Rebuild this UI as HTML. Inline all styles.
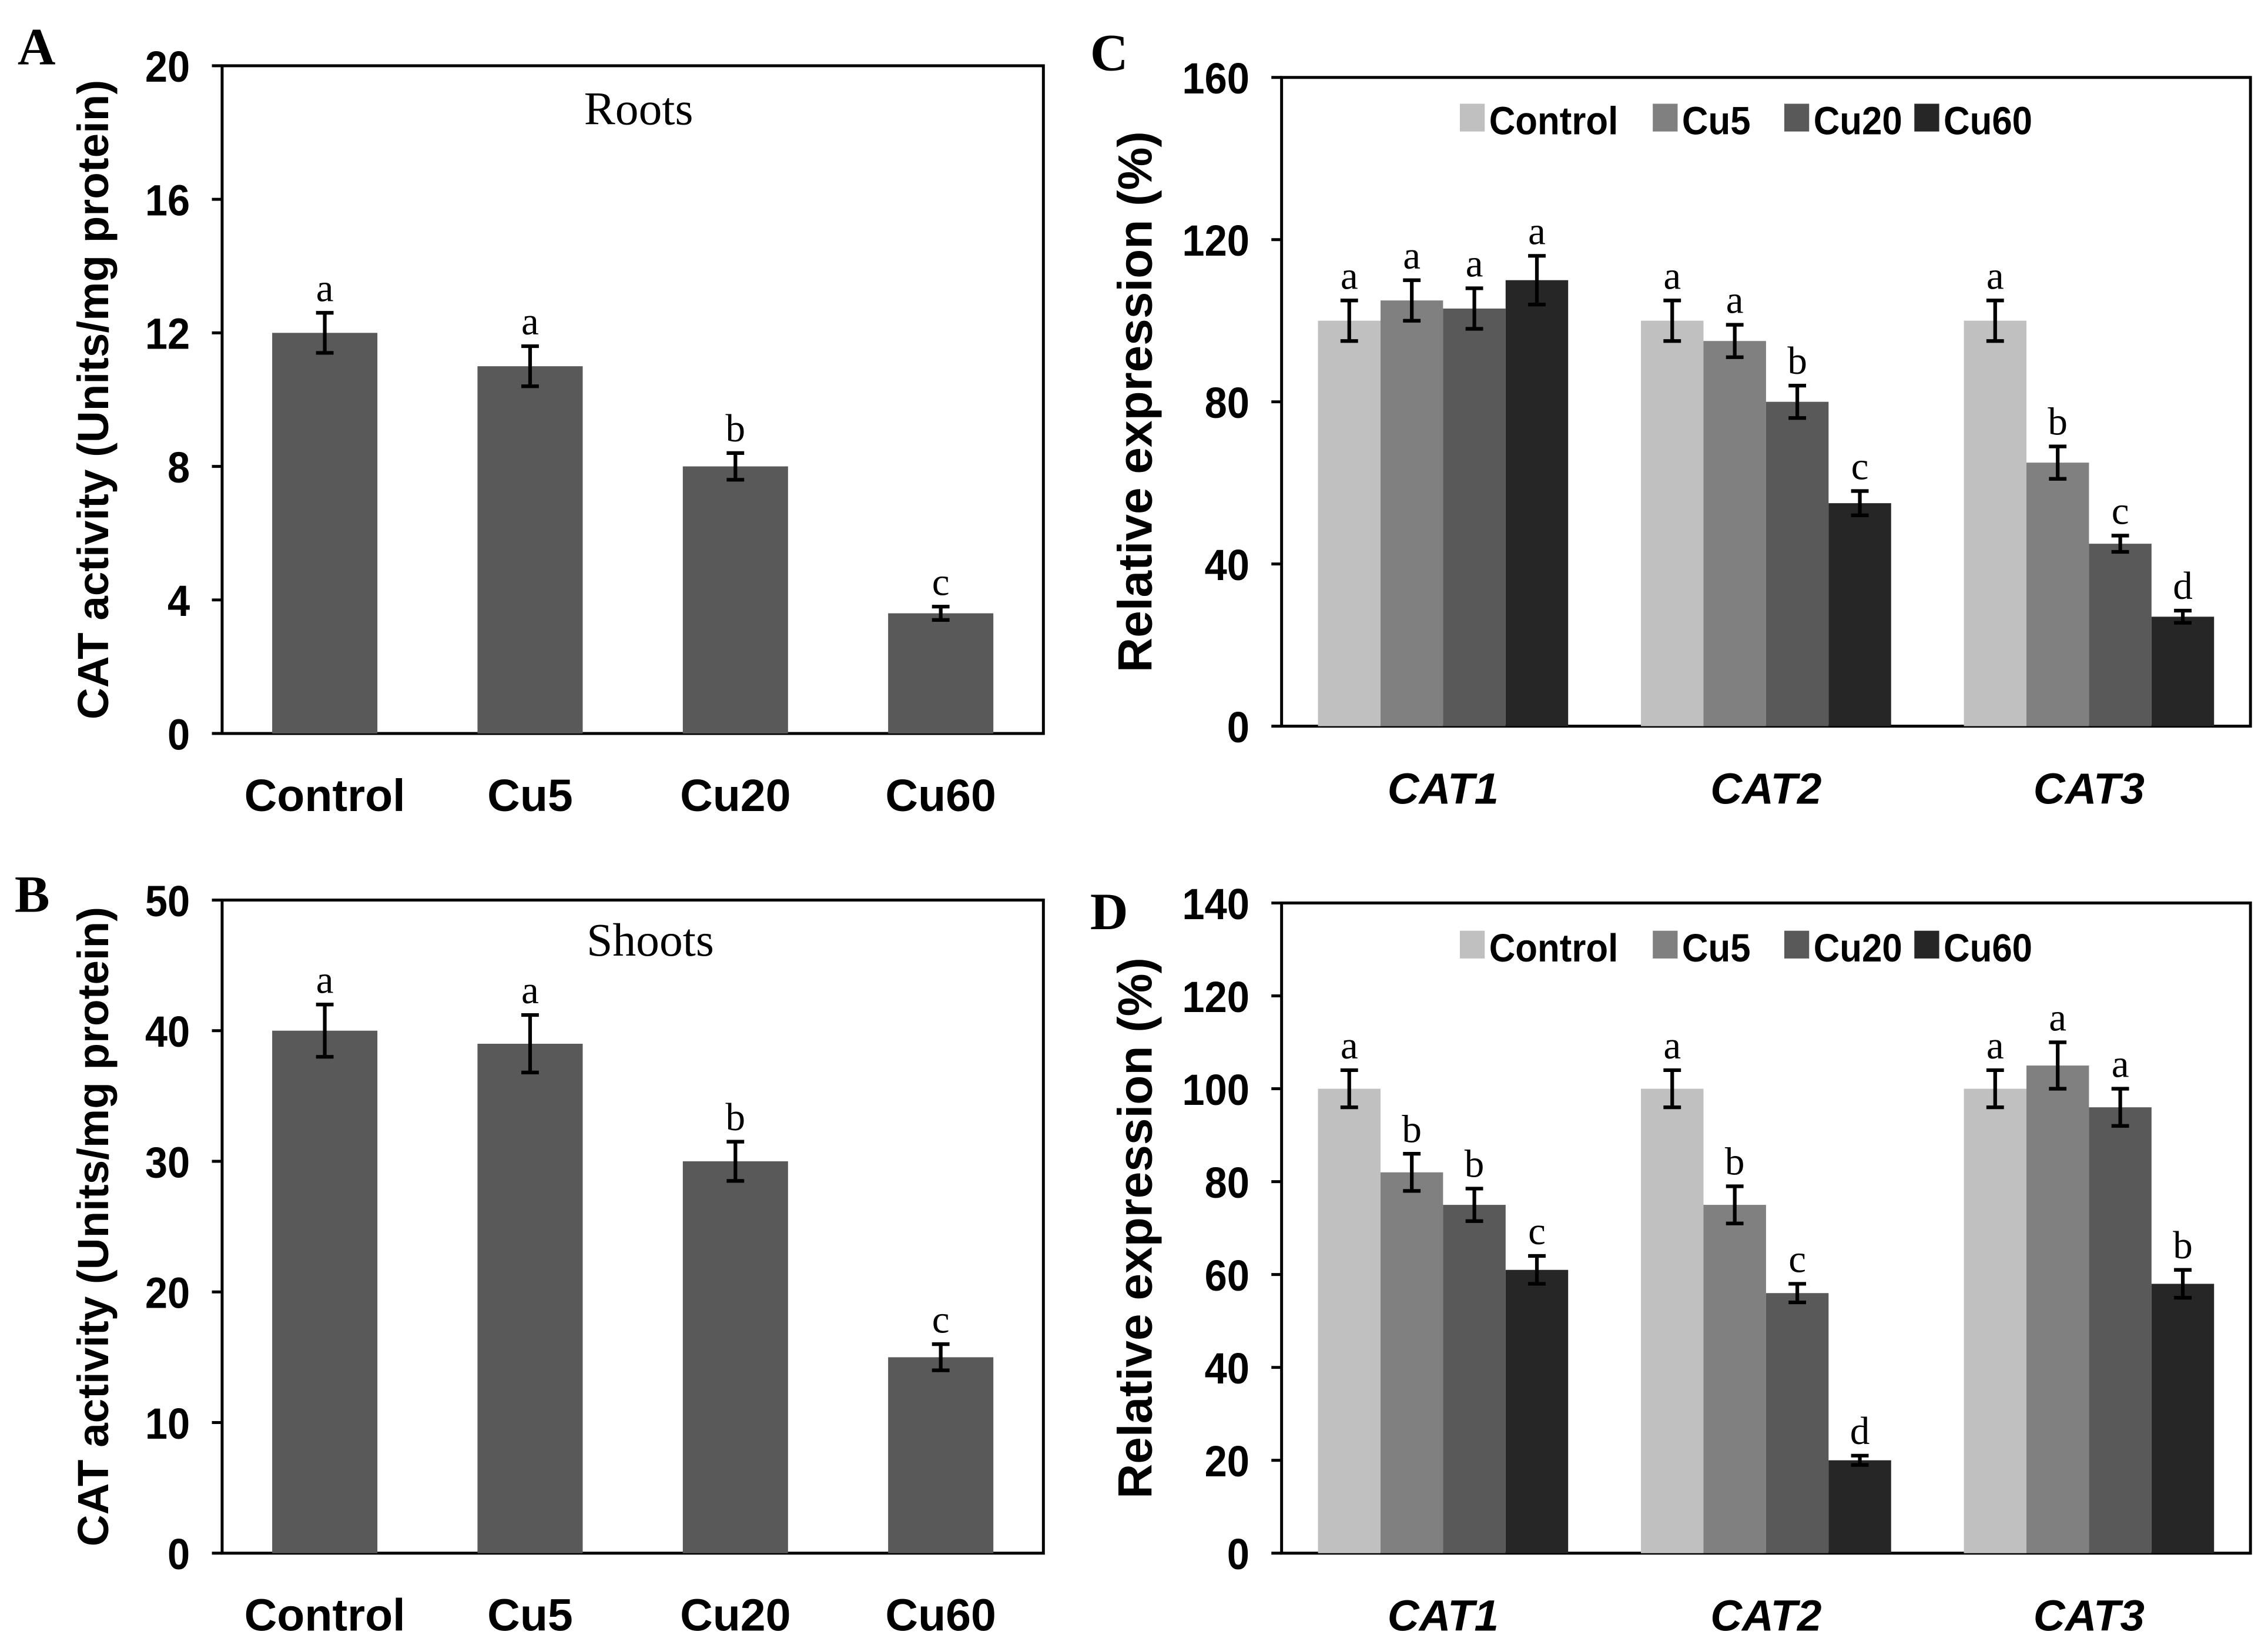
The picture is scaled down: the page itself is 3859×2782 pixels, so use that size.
<!DOCTYPE html>
<html><head><meta charset="utf-8"><style>
html,body{margin:0;padding:0;background:#fff;}
svg{display:block;}
</style></head><body>
<svg id="fig" width="3859" height="2782" viewBox="0 0 1552 1119" preserveAspectRatio="none" xmlns="http://www.w3.org/2000/svg"></svg>
<script>
const abCats = ["Control","Cu5","Cu20","Cu60"];
const rootVals = [12,11,8,3.6];
const rootErr = [0.6,0.6,0.4,0.2];
const rootLetters = ["a","a","b","c"];
const rootTicks = [0,4,8,12,16,20];
const shootVals = [40,39,30,15];
const shootErr = [2,2.2,1.5,1];
const shootLetters = ["a","a","b","c"];
const shootTicks = [0,10,20,30,40,50];
const genes = ["CAT1","CAT2","CAT3"];
const series = ["Control","Cu5","Cu20","Cu60"];
const cVals = [[100,105,103,110],[100,95,80,55],[100,65,45,27]];
const cErr = [[5,5,5,6],[5,4,4,3],[5,4,2,1.5]];
const cLetters = [["a","a","a","a"],["a","a","b","c"],["a","b","c","d"]];
const cTicks = [0,40,80,120,160];
const dVals = [[100,82,75,61],[100,75,56,20],[100,105,96,58]];
const dErr = [[4,4,3.5,3],[4,4,2,1],[4,5,4,3]];
const dLetters = [["a","b","b","c"],["a","b","c","d"],["a","a","a","b"]];
const dTicks = [0,20,40,60,80,100,120,140];
const colors = ["#c0c0c0","#808080","#595959","#262626"];

const svg = document.getElementById('fig');
const NS = "http://www.w3.org/2000/svg";
function el(tag, attrs, parent){const e=document.createElementNS(NS,tag);for(const k in attrs)e.setAttribute(k,attrs[k]);(parent||svg).appendChild(e);return e;}
function txt(s, attrs, parent){const e=el('text',attrs,parent);e.textContent=s;return e;}
const SANS='"Liberation Sans", Arial, sans-serif', SERIF='"Liberation Serif", "Times New Roman", serif';

function axes(name, box, ticks, title, titleX, titleSize, letter, letterPos){
  const g=el('g',{});
  
  
  const max=ticks[ticks.length-1];
  const y=v=>box.y1-(v/max)*(box.y1-box.y0);
  const frame=el('rect',{x:box.x0,y:box.y0,width:box.x1-box.x0,height:box.y1-box.y0,fill:'none',stroke:'#000','stroke-width':2},g);
  
  
  ticks.forEach(t=>{
    const l=el('line',{x1:box.x0-7,x2:box.x0,y1:y(t),y2:y(t),stroke:'#000','stroke-width':2},g);
    
    
    const tl=txt(String(t),{x:box.x0-22,y:y(t)+11,'text-anchor':'end','font-family':SANS,'font-weight':'bold','font-size':30,'transform':`translate(${box.x0-22},0) scale(0.92,1) translate(${-(box.x0-22)},0)`},g);
    
    
  });
  const cy=(box.y0+box.y1)/2;
  const tt=txt(title,{x:titleX,y:cy,transform:`rotate(-90 ${titleX} ${cy})`,'text-anchor':'middle','font-family':SANS,'font-weight':'bold','font-size':titleSize},g);
  
  
  const pl=txt(letter,{x:letterPos[0],y:letterPos[1],'font-family':SERIF,'font-weight':'bold','font-size':36},g);
  
  
  return {g,y};
}
function errbar(g,x,yTop,yBot){
  const e=el('path',{d:`M${x},${yTop}V${yBot}M${x-6},${yTop}H${x+6}M${x-6},${yBot}H${x+6}`,stroke:'#000','stroke-width':2.5,fill:'none'},g);
  
  
}
function letterAt(g,s,x,yy){
  const t=txt(s,{x:x,y:yy,'text-anchor':'middle','font-family':SERIF,'font-size':27},g);
  
  
}

function simple(name, box, ticks, vals, errs, letters, label, labelPos, letter, letterPos){
  const {g,y}=axes(name,box,ticks,'CAT activity (Units/mg protein)',74,30,letter,letterPos);
  const bw=(box.x1-box.x0)/abCats.length;
  abCats.forEach((c,i)=>{
    const cx=box.x0+bw*(i+0.5);
    const r=el('rect',{x:cx-36,y:y(vals[i]),width:72,height:box.y1-y(vals[i]),fill:'#595959'},g);
    
    
    errbar(g,cx,y(vals[i]+errs[i]),y(vals[i]-errs[i]));
    letterAt(g,letters[i],cx,y(vals[i]+errs[i])-8);
    const cl=txt(c,{x:cx,y:box.y1+53,'text-anchor':'middle','font-family':SANS,'font-weight':'bold','font-size':31},g);
    
    
  });
  const lt=txt(label,{x:labelPos[0],y:labelPos[1],'text-anchor':'middle','font-family':SERIF,'font-size':32},g);
  
  
}
function grouped(name, box, ticks, vals, errs, letters, letter, letterPos, legendY){
  const {g,y}=axes(name,box,ticks,'Relative expression (%)',788,33,letter,letterPos);
  const gw=(box.x1-box.x0)/genes.length, bw=42.8;
  genes.forEach((gn,gi)=>{
    const gc=box.x0+gw*(gi+0.5);
    series.forEach((s,si)=>{
      const x=gc-2*bw+si*bw, v=vals[gi][si];
      const r=el('rect',{x:x,y:y(v),width:bw,height:box.y1-y(v),fill:colors[si]},g);
      
      
      const cx=x+bw/2;
      errbar(g,cx,y(v+errs[gi][si]),y(v-errs[gi][si]));
      letterAt(g,letters[gi][si],cx,y(v+errs[gi][si])-8);
    });
    const cl=txt(gn,{x:gc,y:box.y1+53,'text-anchor':'middle','font-family':SANS,'font-weight':'bold','font-style':'italic','font-size':30},g);
    
    
  });
  const lg=el('g',{},g);
  
  
  const lx=[999,1131,1221,1310];
  series.forEach((s,si)=>{
    const it=el('g',{},lg);
    
    
    el('rect',{x:lx[si],y:legendY-11,width:17,height:19,fill:colors[si]},it);
    txt(s,{x:lx[si]+20,y:legendY+10,'font-family':SANS,'font-weight':'bold','font-size':27,transform:`translate(${lx[si]+20},0) scale(0.92,1) translate(${-(lx[si]+20)},0)`},it);
  });
}
simple('panel-a-roots',{x0:152,x1:714,y0:45,y1:502},rootTicks,rootVals,rootErr,rootLetters,'Roots',[437,85],'A',[12,44]);
simple('panel-b-shoots',{x0:152,x1:714,y0:616,y1:1063},shootTicks,shootVals,shootErr,shootLetters,'Shoots',[445,654],'B',[10,624]);
grouped('panel-c-roots-expression',{x0:877,x1:1540,y0:53,y1:497},cTicks,cVals,cErr,cLetters,'C',[746,48],82);
grouped('panel-d-shoots-expression',{x0:877,x1:1540,y0:618,y1:1063},dTicks,dVals,dErr,dLetters,'D',[746,636],648);
</script>
</body></html>
